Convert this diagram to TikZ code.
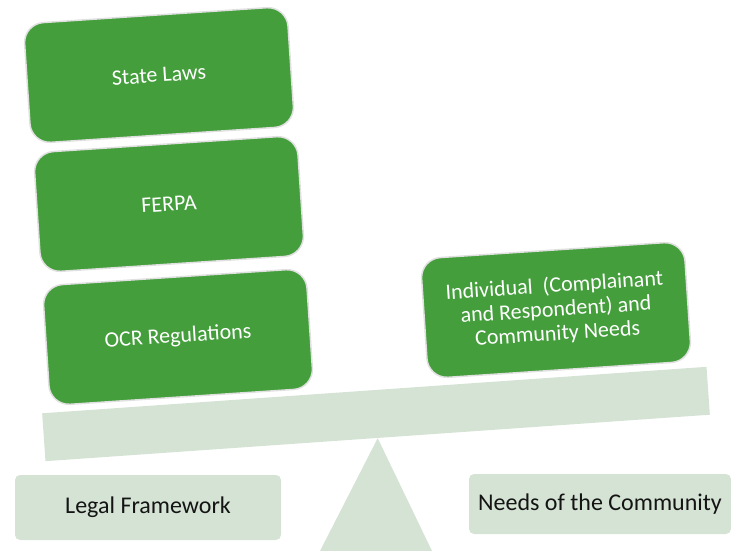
\documentclass[tikz,border=0pt]{standalone}
\usepackage{fontspec}
\setmainfont{Carlito}
\definecolor{boxgreen}{RGB}{68,158,60}
\definecolor{palegreen}{RGB}{213,227,212}
\definecolor{rimgray}{RGB}{224,224,224}
\definecolor{inkdark}{RGB}{20,20,20}
\begin{document}
\begin{tikzpicture}[x=1pt,y=-1pt,
  greenbox/.style={draw=rimgray, line width=1.5pt, fill=boxgreen, rounded corners=20pt,
    minimum width=264pt, minimum height=120pt, inner sep=0pt, rotate=3.8,
    text=white, font=\fontsize{22}{24}\selectfont, align=center},
  basebox/.style={fill=palegreen, rounded corners=5pt, inner sep=0pt,
    font=\fontsize{24}{28}\selectfont, text=inkdark},
  beamshape/.style={fill=palegreen, inner sep=0pt, minimum width=666pt, minimum height=48pt, rotate=4}
]
\useasboundingbox (0,0) rectangle (731,551);
% beam and fulcrum
\node[beamshape] (beam) at (376,414) {};
\coordinate (apex) at (beam.south);
\coordinate (baseR) at (432,551);
\coordinate (baseL) at (320,551);
\fill[palegreen] (apex) -- (baseR) -- (baseL) -- cycle;
% weights
\node[greenbox] (state) at (159,75) {State Laws};
\node[greenbox] (ferpa) at (169,204) {FERPA};
\node[greenbox] (ocr) at (178,337) {OCR Regulations};
\node[greenbox] (indiv) at (556,310) {Individual\ \ (Complainant\\and Respondent) and\\Community Needs};
% labels
\node[basebox, minimum width=266pt, minimum height=65pt] (legal) at (148,507.5) {Legal Framework};
\node[basebox, minimum width=262pt, minimum height=60pt] (needs) at (600,504) {Needs of the Community};
\end{tikzpicture}
\end{document}
